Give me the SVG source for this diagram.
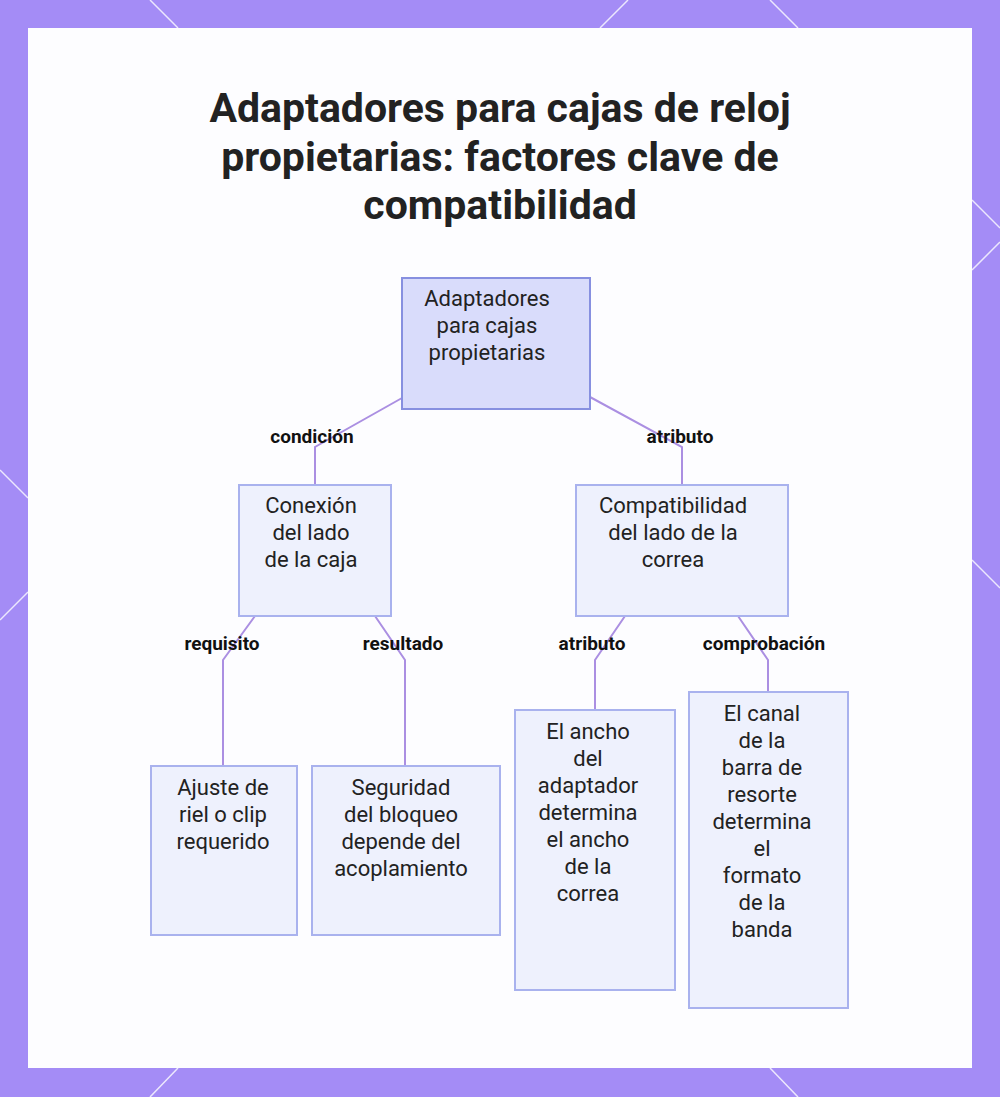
<svg xmlns="http://www.w3.org/2000/svg" width="1000" height="1097" viewBox="0 0 1000 1097">
<style>
.n{fill:#eef1fd;stroke:#a9b2ee;stroke-width:2}
.t{font-family:Roboto,"Noto Sans",sans-serif;font-size:22px;fill:#222;text-anchor:middle}
.l{font-family:Roboto,"Noto Sans",sans-serif;font-size:19px;font-weight:bold;fill:#111;text-anchor:middle}
.c{fill:none;stroke:#ab8fe2;stroke-width:2}
.d{stroke:#fff;stroke-width:1.5;opacity:0.8}
</style>
<rect width="1000" height="1097" fill="#a48cf6"/>
<g class="d">
<line x1="150" y1="0" x2="178" y2="28"/><line x1="600" y1="28" x2="628" y2="0"/><line x1="770" y1="0" x2="798" y2="28"/>
<line x1="972" y1="200" x2="1000" y2="228"/><line x1="972" y1="270" x2="1000" y2="242"/><line x1="972" y1="560" x2="1000" y2="588"/>
<line x1="0" y1="470" x2="28" y2="498"/><line x1="0" y1="620" x2="28" y2="592"/><line x1="150" y1="1097" x2="178" y2="1068"/><line x1="770" y1="1068" x2="798" y2="1097"/>
</g>
<rect x="28" y="28" width="944" height="1040" fill="#fdfdff"/>
<g font-family="Roboto,sans-serif" font-weight="bold" font-size="41" fill="#222" text-anchor="middle">
<text x="500" y="122">Adaptadores para cajas de reloj</text>
<text x="500" y="171">propietarias: factores clave de</text>
<text x="500" y="219">compatibilidad</text>
</g>
<g id="connectors">
<polyline class="c" points="402,398 315,447 315,485"/>
<polyline class="c" points="590,397 682,447 682,485"/>
<polyline class="c" points="255,616 223,660 223,766"/>
<polyline class="c" points="375,616 405,660 405,766"/>
<polyline class="c" points="625,616 595,660 595,710"/>
<polyline class="c" points="738,616 768,660 768,692"/>
<text class="l" x="312" y="443">condición</text>
<text class="l" x="680" y="443">atributo</text>
<text class="l" x="222" y="650">requisito</text>
<text class="l" x="403" y="650">resultado</text>
<text class="l" x="592" y="650">atributo</text>
<text class="l" x="764" y="650">comprobación</text>
</g>
<g id="root"><rect x="402" y="278" width="188" height="131" fill="#d9dcfb" stroke="#8790e0" stroke-width="2"/>
<text class="t" x="487" y="306">Adaptadores</text><text class="t" x="487" y="333">para cajas</text><text class="t" x="487" y="360">propietarias</text></g>
<g id="conexion"><rect class="n" x="239" y="485" width="152" height="131" stroke="#8790e0"/>
<text class="t" x="311" y="513">Conexión</text><text class="t" x="311" y="540">del lado</text><text class="t" x="311" y="567">de la caja</text></g>
<g id="compat"><rect class="n" x="576" y="485" width="212" height="131" stroke="#8790e0"/>
<text class="t" x="673" y="513">Compatibilidad</text><text class="t" x="673" y="540">del lado de la</text><text class="t" x="673" y="567">correa</text></g>
<g id="ajuste"><rect class="n" x="151" y="766" width="146" height="169"/>
<text class="t" x="223" y="795">Ajuste de</text><text class="t" x="223" y="822">riel o clip</text><text class="t" x="223" y="849">requerido</text></g>
<g id="seguridad"><rect class="n" x="312" y="766" width="188" height="169"/>
<text class="t" x="401" y="795">Seguridad</text><text class="t" x="401" y="822">del bloqueo</text><text class="t" x="401" y="849">depende del</text><text class="t" x="401" y="876">acoplamiento</text></g>
<g id="ancho"><rect class="n" x="515" y="710" width="160" height="280"/>
<text class="t" x="588" y="739">El ancho</text><text class="t" x="588" y="766">del</text><text class="t" x="588" y="793">adaptador</text><text class="t" x="588" y="820">determina</text><text class="t" x="588" y="847">el ancho</text><text class="t" x="588" y="874">de la</text><text class="t" x="588" y="901">correa</text></g>
<g id="canal"><rect class="n" x="689" y="692" width="159" height="316"/>
<text class="t" x="762" y="721">El canal</text><text class="t" x="762" y="748">de la</text><text class="t" x="762" y="775">barra de</text><text class="t" x="762" y="802">resorte</text><text class="t" x="762" y="829">determina</text><text class="t" x="762" y="856">el</text><text class="t" x="762" y="883">formato</text><text class="t" x="762" y="910">de la</text><text class="t" x="762" y="937">banda</text></g>
</svg>
